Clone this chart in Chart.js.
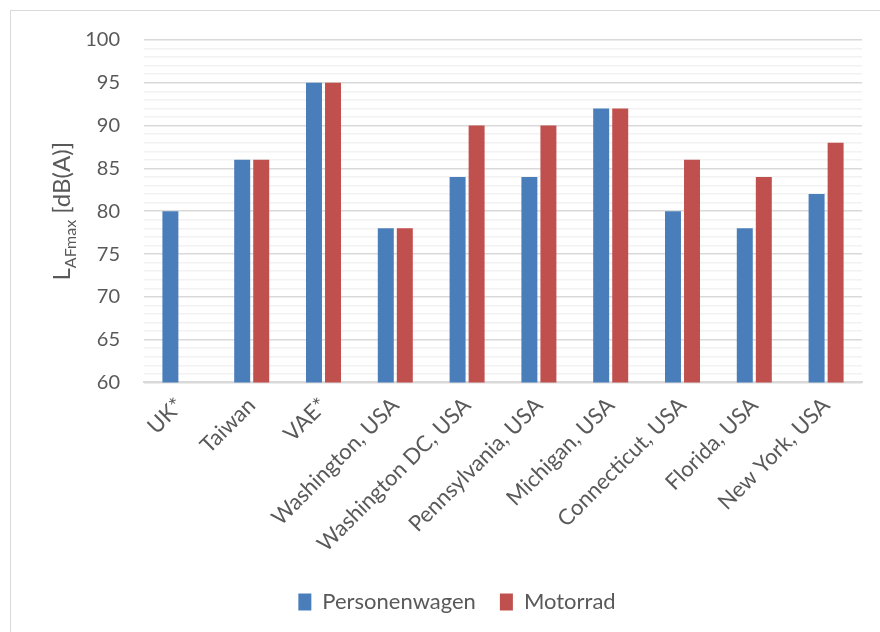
<!DOCTYPE html>
<html>
<head>
<meta charset="utf-8">
<script src="https://cdn.jsdelivr.net/npm/chart.js@4/dist/chart.umd.min.js"></script>
<style>
  html, body { margin: 0; padding: 0; background: #fff; }
  #wrap { width: 880px; height: 632px; position: relative; }
</style>
</head>
<body>
<div id="wrap"><canvas id="myChart"></canvas></div>
<script>
const categories = ['UK*', 'Taiwan', 'VAE*', 'Washington, USA', 'Washington DC, USA',
    'Pennsylvania, USA', 'Michigan, USA', 'Connecticut, USA', 'Florida, USA', 'New York, USA']
const personenwagen = [80, 86, 95, 78, 84, 84, 92, 80, 78, 82]
const motorrad = [null, 86, 95, 78, 90, 90, 92, 86, 84, 88]
const yMin = 60
const yMax = 100

const fontFamily = 'Lato, "Open Sans", sans-serif'
const textColor = '#595959'

// frame around the whole chart + y axis title with subscript
const decor = {
    id: 'decor',
    beforeDraw(chart) {
        const c = chart.ctx
        c.save()
        c.strokeStyle = '#d9d9d9'
        c.lineWidth = 1
        c.strokeRect(10.5, 10.5, 900, 700)
        c.restore()
    },
    afterDraw(chart) {
        const c = chart.ctx
        const area = chart.chartArea
        c.save()
        c.translate(70, (area.top + area.bottom) / 2)
        c.rotate(-Math.PI / 2)
        c.fillStyle = textColor
        c.textBaseline = 'alphabetic'
        const big = '24px ' + fontFamily
        const small = '16px ' + fontFamily
        const parts = [['L', big, 0], ['AFmax', small, 6], [' [dB(A)]', big, 0]]
        let w = 0
        parts.forEach((p) => { c.font = p[1]; w += c.measureText(p[0]).width })
        let x = -w / 2
        parts.forEach((p) => {
            c.font = p[1]
            c.fillText(p[0], x, p[2])
            x += c.measureText(p[0]).width
        })
        c.restore()
    },
}

const ctx = document.getElementById('myChart')
new Chart(ctx, {
    type: 'bar',
    data: {
        labels: categories,
        datasets: [
            {
                label: 'Personenwagen',
                data: personenwagen,
                backgroundColor: '#4a7ebb',
                categoryPercentage: 0.53,
                barPercentage: 0.84,
            },
            {
                label: 'Motorrad',
                data: motorrad,
                backgroundColor: '#c0504d',
                categoryPercentage: 0.53,
                barPercentage: 0.84,
            },
        ],
    },
    options: {
        responsive: true,
        maintainAspectRatio: false,
        animation: false,
        layout: {
            padding: { left: 52, right: 18, top: 40, bottom: 9 },
        },
        plugins: {
            legend: {
                position: 'bottom',
                labels: {
                    color: textColor,
                    font: { family: fontFamily, size: 22 },
                    boxWidth: 13,
                    boxHeight: 17,
                    padding: 24,
                },
            },
            tooltip: { enabled: false },
        },
        scales: {
            x: {
                grid: { display: false, drawTicks: false },
                border: { color: '#d9d9d9', width: 2 },
                ticks: {
                    color: textColor,
                    font: { family: fontFamily, size: 22 },
                    minRotation: 45,
                    maxRotation: 45,
                    padding: 10,
                    autoSkip: false,
                },
            },
            y: {
                min: yMin,
                max: yMax,
                border: { display: false },
                afterFit: (scale) => { scale.width = 92 },
                grid: {
                    drawTicks: false,
                    color: (c) => (c.tick.value % 5 === 0 ? '#d9d9d9' : '#f2f2f2'),
                    lineWidth: 1.5,
                },
                ticks: {
                    stepSize: 1,
                    autoSkip: false,
                    padding: 24,
                    color: textColor,
                    font: { family: fontFamily, size: 20 },
                    callback: (v) => (v % 5 === 0 ? v : ''),
                },
            },
        },
    },
    plugins: [decor],
})
</script>
</body>
</html>
